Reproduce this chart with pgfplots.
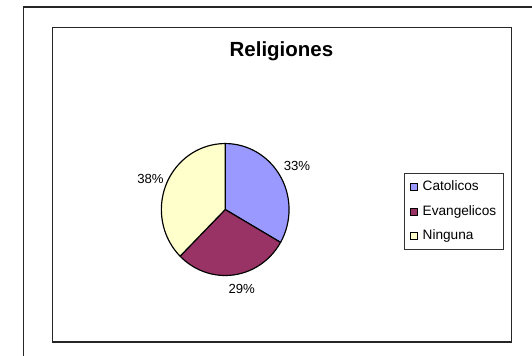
\documentclass[border=0pt]{standalone}
\usepackage{fontspec}
\setmainfont{Liberation Sans}
\usepackage{pgfplots}
\usepackage{pgfplotstable}
\pgfplotsset{compat=1.18}
\definecolor{catcol}{HTML}{9999FF}
\definecolor{evacol}{HTML}{993366}
\definecolor{nincol}{HTML}{FFFFCC}
\begin{document}
\pgfplotstableread{
name value
Catolicos 33.3
Evangelicos 29.2
Ninguna 37.5
}\datatable
\pgfplotstablegetelem{0}{value}\of\datatable \let\va\pgfplotsretval
\pgfplotstablegetelem{1}{value}\of\datatable \let\vb\pgfplotsretval
\pgfplotstablegetelem{2}{value}\of\datatable \let\vc\pgfplotsretval
\pgfmathsetmacro\tot{\va+\vb+\vc}
\pgfmathsetmacro\aA{90}
\pgfmathsetmacro\aB{90-360*\va/\tot}
\pgfmathsetmacro\aC{\aB-360*\vb/\tot}
\pgfmathsetmacro\aD{\aC-360*\vc/\tot}
\begin{tikzpicture}
\begin{axis}[
  at={(0,0)}, anchor=south west,
  scale only axis, width=532pt, height=365pt,
  xmin=0, xmax=532, ymin=0, ymax=365,
  hide axis, clip=false,
  legend image code/.code={\draw[#1, line width=1pt] (0pt,-3.5pt) rectangle (7pt,3.5pt);},
  legend style={at={(400.4/532,187/365)}, anchor=north west,
    font=\fontsize{14}{16}\selectfont, draw=black!80, line width=0.8pt,
    inner xsep=6pt, inner ysep=6pt, row sep=10.3pt,
    nodes={inner sep=1pt, text height=10pt, text depth=3pt},
    /tikz/every odd column/.append style={column sep=4pt},
    legend cell align=left},
]
\addlegendimage{fill=catcol, draw=black}
\addlegendentry{Catolicos}
\addlegendimage{fill=evacol, draw=black}
\addlegendentry{Evangelicos}
\addlegendimage{fill=nincol, draw=black}
\addlegendentry{Ninguna}
% frames
\draw[black!85, line width=1.3pt] (axis cs:10,0) -- (axis cs:10,357.7) -- (axis cs:532,357.7);
\draw[black!85, line width=1.3pt] (axis cs:40,14) rectangle (axis cs:511,337);
% pie
\filldraw[fill=catcol, draw=black, line width=1.2pt, line join=round]
  (axis cs:217.2,150) -- ++(\aA:65.5pt and 67.7pt) arc[start angle=\aA, end angle=\aB, x radius=65.5pt, y radius=67.7pt] -- cycle;
\filldraw[fill=evacol, draw=black, line width=1.2pt, line join=round]
  (axis cs:217.2,150) -- ++(\aB:65.5pt and 67.7pt) arc[start angle=\aB, end angle=\aC, x radius=65.5pt, y radius=67.7pt] -- cycle;
\filldraw[fill=nincol, draw=black, line width=1.2pt, line join=round]
  (axis cs:217.2,150) -- ++(\aC:65.5pt and 67.7pt) arc[start angle=\aC, end angle=\aD, x radius=65.5pt, y radius=67.7pt] -- cycle;
% labels
\node[font=\fontsize{13.5}{15}\selectfont] at (axis cs:290.8,194.3) {33\%};
\node[font=\fontsize{13.5}{15}\selectfont] at (axis cs:140.5,181.7) {38\%};
\node[font=\fontsize{13.5}{15}\selectfont] at (axis cs:234.1,68.5) {29\%};
\node[font=\fontsize{21}{24}\selectfont\bfseries] at (axis cs:274.9,312.7) {Religiones};
\end{axis}
\pgfresetboundingbox
\useasboundingbox (0,0) rectangle (532pt,365pt);
\end{tikzpicture}
\end{document}
